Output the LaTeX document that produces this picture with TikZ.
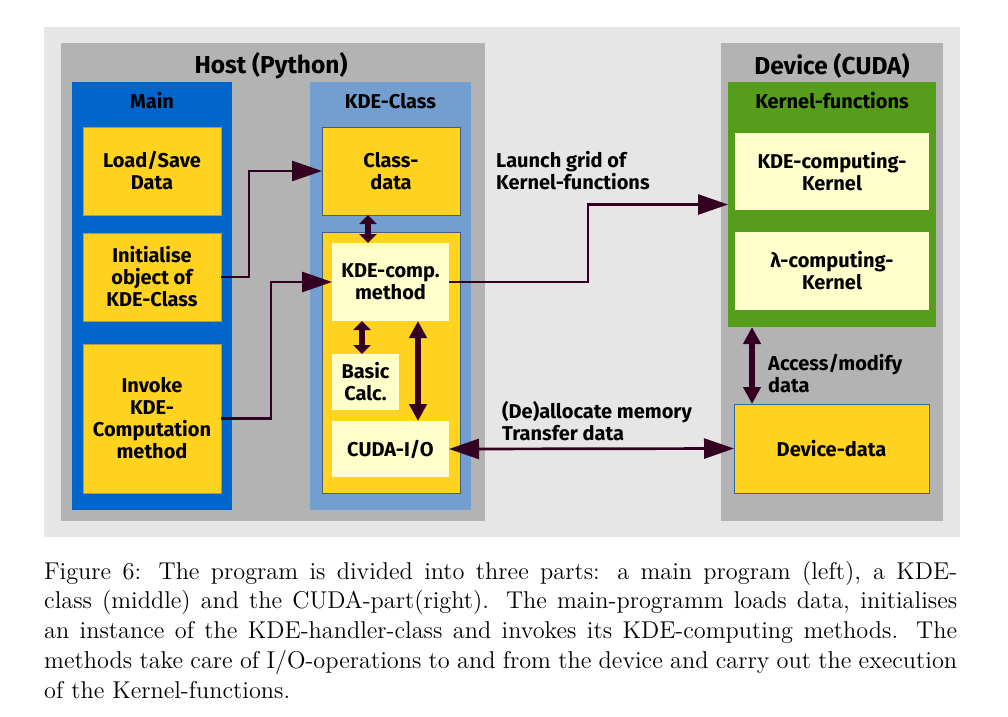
\documentclass[tikz,border=0pt]{standalone}
\usepackage{fontspec}
\newfontfamily\boxfont{Fira Sans}
\newfontfamily\capfont{lmroman12-regular}[Extension=.otf]
\usetikzlibrary{arrows.meta,calc}
\definecolor{bgc}{HTML}{E6E6E6}
\definecolor{hostc}{HTML}{B3B3B3}
\definecolor{mainc}{HTML}{0066CC}
\definecolor{kdec}{HTML}{729FCF}
\definecolor{yel}{HTML}{FFD320}
\definecolor{pale}{HTML}{FFFFCC}
\definecolor{grn}{HTML}{579D1C}
\definecolor{arr}{HTML}{330022}
\definecolor{yedge}{HTML}{A89A5A}
\definecolor{bedge}{HTML}{3465A4}
\begin{document}
\begin{tikzpicture}[x=1pt,y=-1pt,
  area/.style args={#1 by #2}{minimum width=#1pt, minimum height=#2pt, inner sep=0pt, outer sep=0pt, align=center,
     font=\boxfont\bfseries\fontsize{20}{22}\selectfont},
  ybox/.style={fill=yel, draw=yedge, line width=0.6pt},
  pbox/.style={fill=pale},
  ttl/.style={inner sep=0pt, font=\boxfont\bfseries\fontsize{20}{22}\selectfont},
  bigttl/.style={inner sep=0pt, font=\boxfont\bfseries\fontsize{24.5}{27}\selectfont},
  lbl/.style={inner sep=0pt, align=left, anchor=west, font=\boxfont\bfseries\fontsize{20}{22}\selectfont},
  conn/.style={draw=arr, line width=2.7pt, -{Triangle[length=30pt,width=20pt]}},
  bidir/.style={draw=arr, line width=2.7pt, {Triangle[length=30pt,width=20pt]}-{Triangle[length=30pt,width=20pt]}},
  vsmall/.style={draw=arr, line width=5.5pt, {Triangle[length=9pt,width=17pt]}-{Triangle[length=9pt,width=17pt]}},
  vbig/.style={draw=arr, line width=6.5pt, {Triangle[length=17pt,width=17pt]}-{Triangle[length=17pt,width=17pt]}}
]
\useasboundingbox (0,0) rectangle (1008,716);
\fill[white] (0,0) rectangle (1008,716);
% background areas
\node[area=916 by 510, fill=bgc] (bg) at (502,282) {};
\node[area=424 by 478, fill=hostc] (host) at (273,282) {};
\node[bigttl] (hostttl) at (271,66) {Host (Python)};
\node[area=160 by 428, fill=mainc] (main) at (152,296) {};
\node[ttl] (mainttl) at (152,101) {Main};
\node[area=161 by 428, fill=kdec] (kde) at (390.5,296) {};
\node[ttl] (kdettl) at (390.5,101) {KDE-Class};
\node[area=222 by 478, fill=hostc] (dev) at (832,282) {};
\node[bigttl] (devttl) at (832,66) {Device (CUDA)};
\node[area=208 by 245, fill=grn] (kernelf) at (832,204.5) {};
\node[ttl] (kfttl) at (832,101) {Kernel-functions};
% main boxes
\node[area=138 by 88, ybox] (load) at (152,171) {Load/Save\\Data};
\node[area=138 by 88, ybox] (init) at (152,277) {Initialise\\object of\\KDE-Class};
\node[area=138 by 149, ybox] (invoke) at (152,418.5) {Invoke\\KDE-\\Computation\\method};
% kde class boxes
\node[area=138 by 88, ybox, draw=kdec!60!black] (classdata) at (391,171) {Class-\\data};
\node[area=138 by 261, ybox, draw=kdec!60!black] (lower) at (391,362.5) {};
\node[area=117 by 78, pbox] (kdecomp) at (390.5,282) {KDE-comp.\\method};
\node[area=67 by 56, pbox] (basic) at (365.5,382) {Basic\\Calc.};
\node[area=117 by 56, pbox] (cudaio) at (390.5,449) {CUDA-I/O};
% device boxes
\node[area=194 by 77, pbox] (kdek) at (832,171.5) {KDE-computing-\\Kernel};
\node[area=194 by 78, pbox] (lamk) at (832,271) {λ-computing-\\Kernel};
\node[area=195 by 89, ybox, draw=bedge] (devdata) at (831.5,448.5) {Device-data};
% labels
\node[lbl] (l1) at (496,170.5) {Launch grid of\\Kernel-functions};
\node[lbl] (l2) at (502,421) {(De)allocate memory\\Transfer data};
\node[lbl] (l3) at (768,373.5) {Access/modify\\data};
% connectors
\draw[conn] (init.east) -- ++(28,0) |- (classdata.west);
\draw[conn] (invoke.east) -- ++(50,0) |- (kdecomp.west);
\draw[conn] (kdecomp.east) -- ++(139,0) |- (kernelf.west);
\draw[bidir] (cudaio.east) -- (devdata.west);
\draw[vsmall] ([xshift=-23pt]classdata.south) -- ([xshift=-22.5pt]kdecomp.north);
\draw[vsmall] ([xshift=-28.5pt]kdecomp.south) -- ([xshift=-3.5pt]basic.north);
\draw[vbig] ([xshift=27.5pt]kdecomp.south) -- ([xshift=27.5pt]cudaio.north);
\draw[vbig] ([xshift=-80pt]kernelf.south) -- ([xshift=-79.5pt]devdata.north);
% caption
\node[inner sep=0pt, anchor=base west] (cap) at (44,579) {\vtop{\capfont\fontsize{24.3}{29.75}\selectfont\baselineskip=29.75pt
\hbox to 913pt{Figure 6: The program is divided into three parts: a main program (left), a KDE-}
\hbox to 913pt{class (middle) and the CUDA-part(right). The main-programm loads data, initialises}
\hbox to 913pt{an instance of the KDE-handler-class and invokes its KDE-computing methods. The}
\hbox to 913pt{methods take care of I/O-operations to and from the device and carry out the execution}
\hbox{of the Kernel-functions.}}};
\end{tikzpicture}
\end{document}
